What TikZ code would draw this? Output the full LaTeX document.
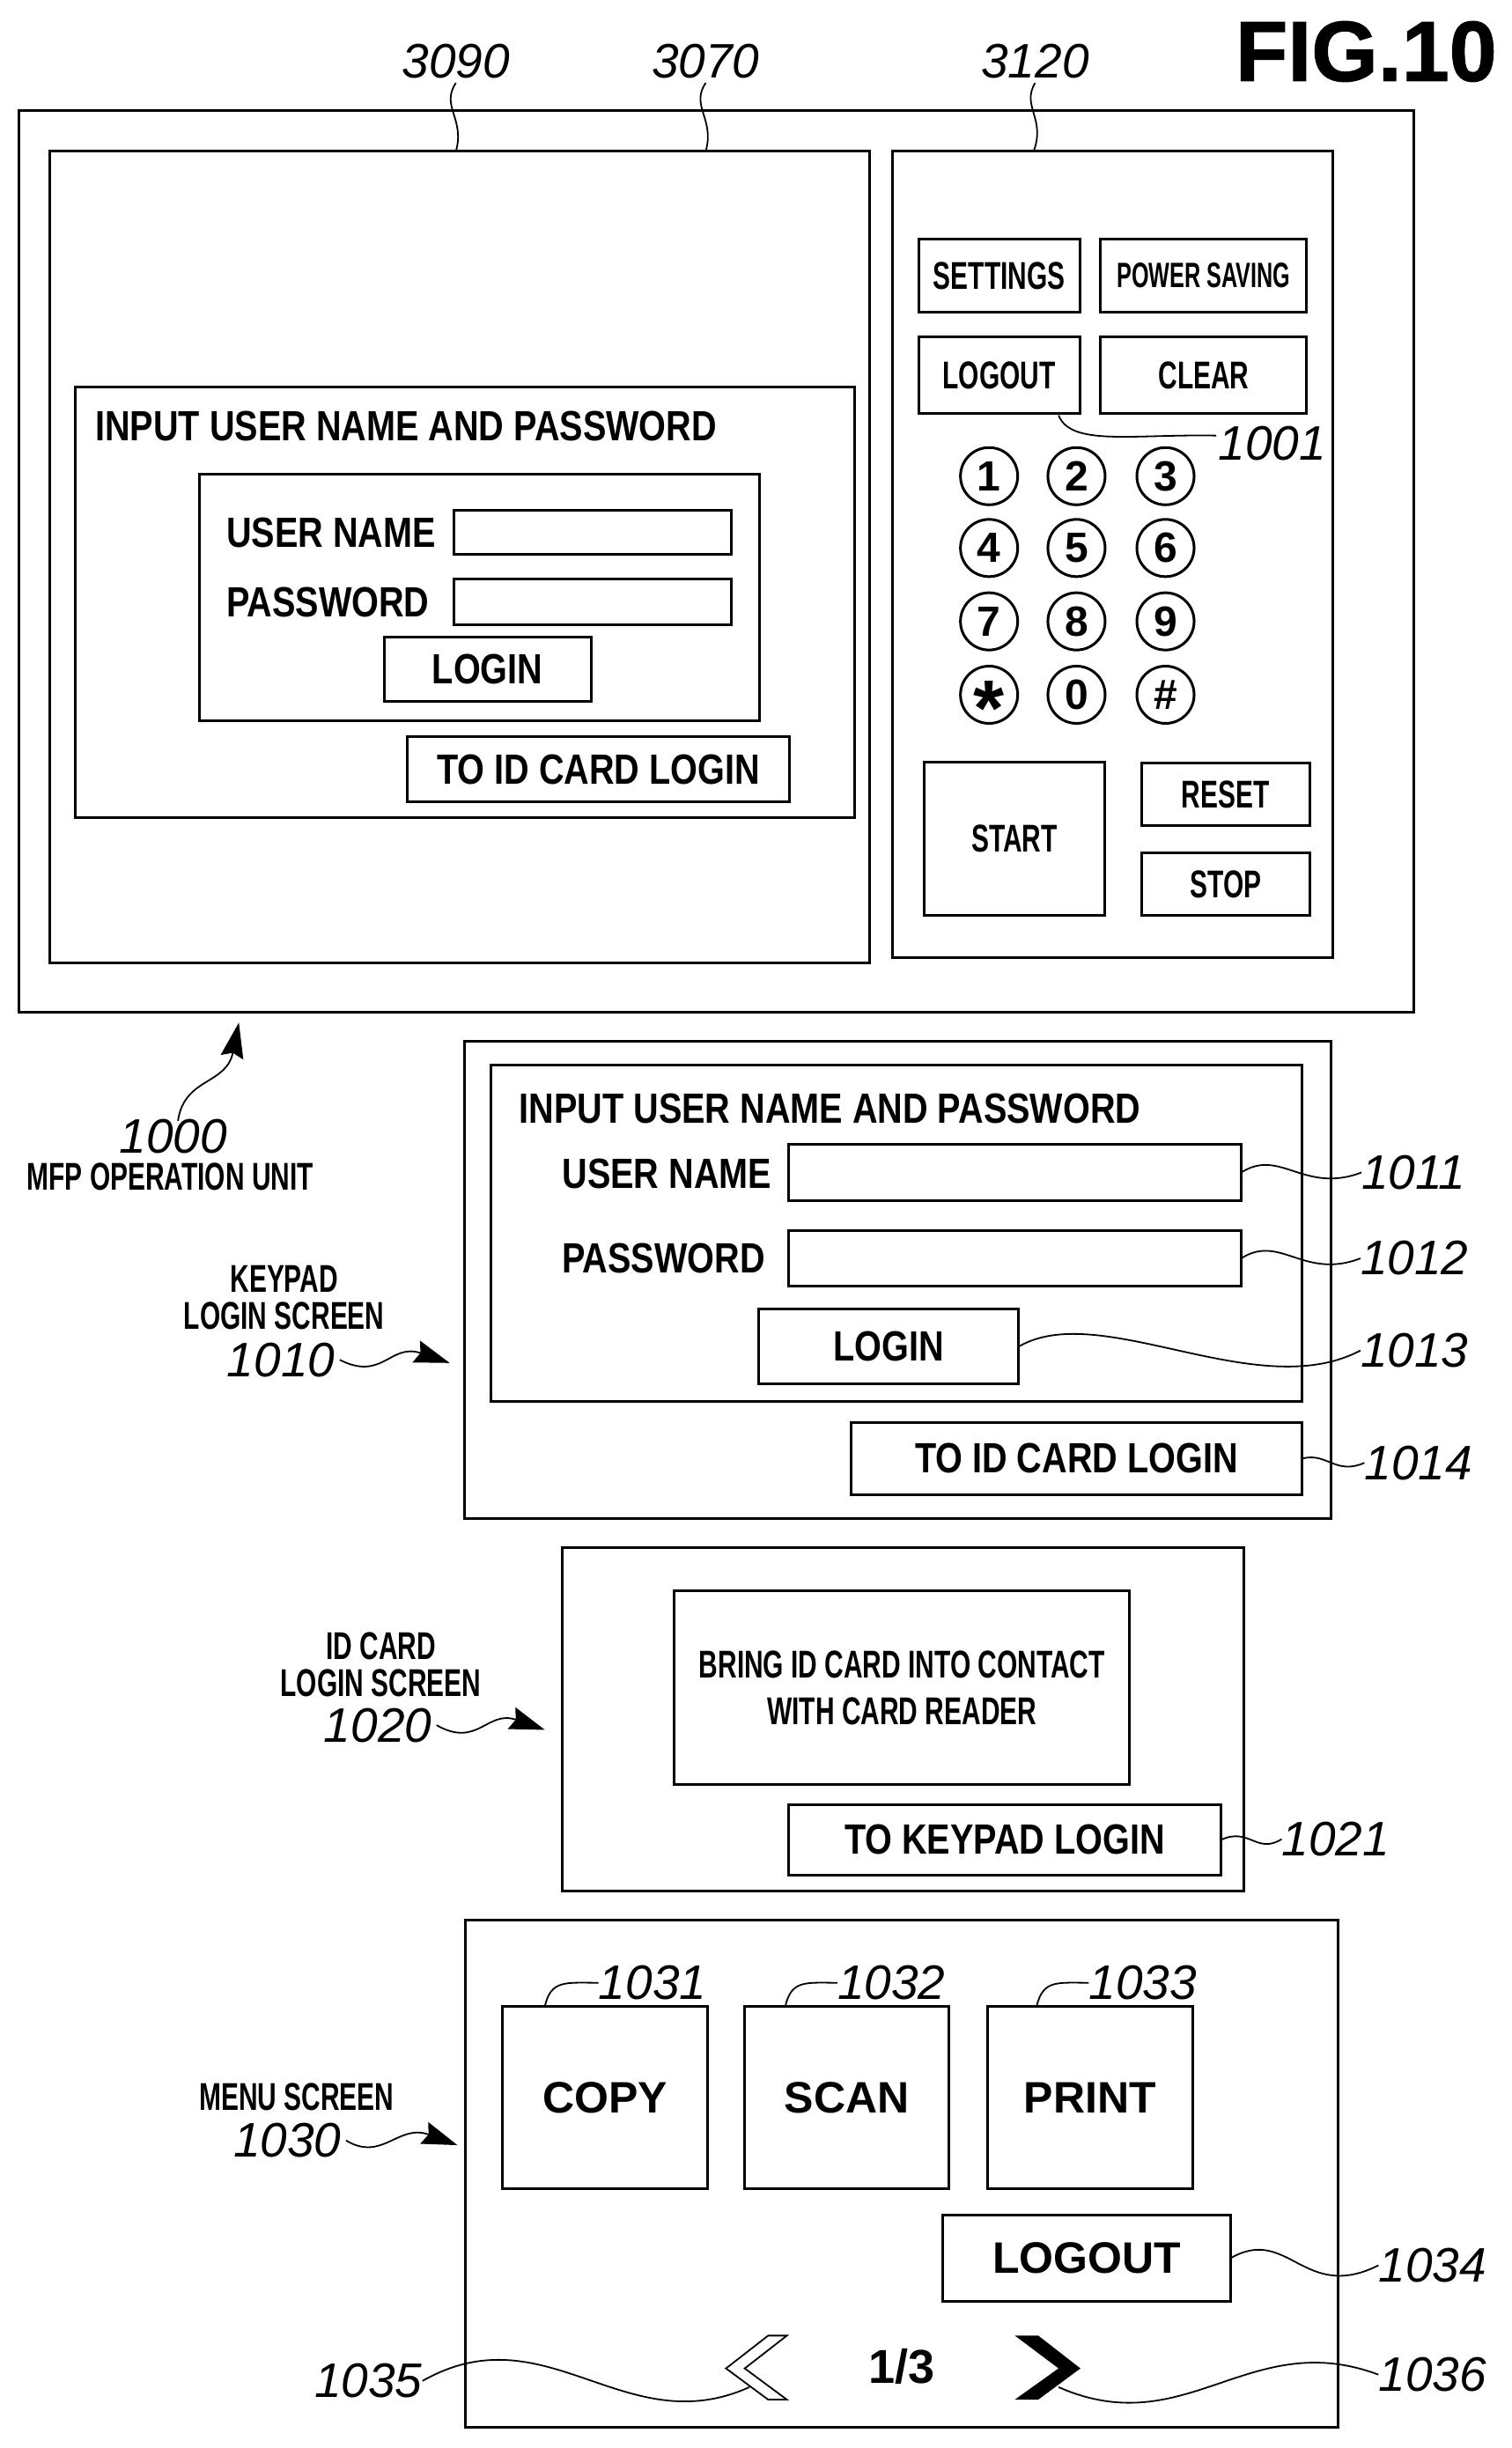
\documentclass[tikz,border=0pt]{standalone}
\usepackage{fontspec}
\usetikzlibrary{fit,arrows.meta}
\setmainfont{Liberation Sans}
\newfontfamily\fcond[FakeStretch=0.68]{Liberation Sans}
\newfontfamily\fnar[FakeStretch=0.63]{Liberation Sans}
\newfontfamily\fmid[FakeStretch=0.825]{Liberation Sans}
\newfontfamily\ftitle[FakeBold=1.2]{Liberation Sans}
\newcommand\fz[1]{\fontsize{#1}{#1}\selectfont}
\tikzset{
 x=1.7727pt,y=-1.7727pt,
 boxa/.style={draw=black,line width=3pt,inner sep=0pt,outer sep=0pt,fill=none},
 btn/.style={boxa,label={[inner sep=0pt,font=\fmid\bfseries\fz{48}]center:{#1}}},
 btnb/.style={boxa,label={[inner sep=0pt,font=\fcond\bfseries\fz{44}]center:{#1}}},
 btnn/.style={boxa,label={[inner sep=0pt,font=\fnar\bfseries\fz{40}]center:{#1}}},
 btnw/.style={boxa,label={[inner sep=0pt,font=\bfseries\fz{50}]center:{#1}}},
 numlab/.style={font=\itshape\fz{55},inner sep=0pt},
 txtlab/.style={font=\fmid\bfseries\fz{48},inner sep=0pt,anchor=west},
 captext/.style={font=\fcond\bfseries\fz{44},inner sep=0pt,align=center},
 keycirc/.style={circle,draw=black,line width=3pt,minimum size=65pt,inner sep=0pt,font=\bfseries\fz{48}},
 leadline/.style={line width=1.8pt},
 tipped/.style={line width=1.8pt,-{Stealth[length=40pt,width=26pt,inset=5pt]}},
}
\begin{document}
\begin{tikzpicture}
\useasboundingbox (0,0) rectangle (968,1568);
\fill[white] (0,0) rectangle (968,1568);
% title
\node[font=\ftitle\bfseries\fz{97},inner sep=0pt] (fig) at (875,33) {FIG.10};
% operation unit
\node[boxa,fit={(12,71)(905.5,648.5)}] (unit) {};
\node[boxa,fit={(32,97)(557,616.5)}] (screen) {};
\node[boxa,fit={(571.5,97)(853.5,613.5)}] (panel) {};
\node[boxa,fit={(48,248)(547.5,523.5)}] (dlgA) {};
\node[txtlab] (dlgAt) at (61,273) {INPUT USER NAME AND PASSWORD};
\node[boxa,fit={(128,304)(486.5,461.5)}] (innerA) {};
\node[txtlab] (unA) at (145,341) {USER NAME};
\node[txtlab] (pwA) at (145,386) {PASSWORD};
\node[boxa,fit={(291,327)(468.5,355)}] (fA1) {};
\node[boxa,fit={(291,371)(468.5,400)}] (fA2) {};
\node[btn=LOGIN,fit={(246,408)(378.5,449.5)}] (loginA) {};
\node[btn={TO ID CARD LOGIN},fit={(261,472)(505.5,513.5)}] (cardA) {};
% panel
\node[btnb=SETTINGS,fit={(588.5,153)(691.5,200)}] (settings) {};
\node[btnn={POWER SAVING},fit={(705,153)(837,200)}] (power) {};
\node[btnb=LOGOUT,fit={(588.5,216)(691.5,265)}] (logoutP) {};
\node[btnb=CLEAR,fit={(705,216)(837,265)}] (clear) {};
\node[keycirc] (k1) at (633.5,305) {1};
\node[keycirc] (k2) at (689.5,305) {2};
\node[keycirc] (k3) at (746.5,305) {3};
\node[keycirc] (k4) at (633.5,351) {4};
\node[keycirc] (k5) at (689.5,351) {5};
\node[keycirc] (k6) at (746.5,351) {6};
\node[keycirc] (k7) at (633.5,398) {7};
\node[keycirc] (k8) at (689.5,398) {8};
\node[keycirc] (k9) at (746.5,398) {9};
\node[keycirc] (kS) at (633.5,445) {\raisebox{-47pt}[0pt][0pt]{\fz{90}*}};
\node[keycirc] (k0) at (689.5,445) {0};
\node[keycirc] (kH) at (746.5,445) {\#};
\node[btnb=START,fit={(592,488)(707.5,586.5)}] (start) {};
\node[btnb=RESET,fit={(731,489)(839,528.5)}] (reset) {};
\node[btnb=STOP,fit={(731,546)(839,586.5)}] (stop) {};
% keypad login
\node[boxa,fit={(297.5,667)(852.5,972.5)}] (keypad) {};
\node[boxa,fit={(314.5,682)(834,897.5)}] (innerB) {};
\node[txtlab] (dlgBt) at (332.5,710) {INPUT USER NAME AND PASSWORD};
\node[txtlab] (unB) at (360,752) {USER NAME};
\node[txtlab] (pwB) at (360,806) {PASSWORD};
\node[boxa,fit={(505,733)(795,769)}] (fB1) {};
\node[boxa,fit={(505,788)(795,824)}] (fB2) {};
\node[btn=LOGIN,fit={(486,838.5)(652.5,886.5)}] (loginB) {};
\node[btn={TO ID CARD LOGIN},fit={(545,911)(834,957.5)}] (cardB) {};
% id card login
\node[boxa,fit={(360,991)(796.5,1211)}] (idcard) {};
\node[boxa,fit={(432,1019)(723.5,1143)},label={[inner sep=0pt,align=center,font=\fcond\bfseries\fz{44}]center:{BRING ID CARD INTO CONTACT\\[9pt]WITH CARD READER}}] (bring) {};
\node[btn={TO KEYPAD LOGIN},fit={(505,1156)(782,1201)}] (toKeypad) {};
% menu
\node[boxa,fit={(298,1230)(857,1555)}] (menu) {};
\node[btnw=COPY,fit={(322,1285)(453,1402)}] (copy) {};
\node[btnw=SCAN,fit={(477,1285)(608,1402)}] (scan) {};
\node[btnw=PRINT,fit={(632.5,1285)(764,1402)}] (print) {};
\node[btnw=LOGOUT,fit={(604,1419)(788,1474)}] (logoutM) {};
\node[font=\bfseries\fz{54},inner sep=0pt] (page) at (577.5,1516) {1/3};
\draw[line width=1.8pt,fill=white] (504,1496) -- (492,1496) -- (465,1517) -- (492,1537) -- (504,1537) -- (477,1517) -- cycle;
\fill[black] (650,1496) -- (665,1496) -- (692,1517) -- (665,1537) -- (650,1537) -- (678,1517) -- cycle;
\coordinate (chevL) at (480,1529);
\coordinate (chevR) at (678,1529);
% numerals
\node[numlab] (n3090) at (292,39) {3090};
\node[numlab] (n3070) at (452,39) {3070};
\node[numlab] (n3120) at (663,39) {3120};
\node[numlab] (n1001) at (815,284) {1001};
\node[numlab] (n1000) at (111,728) {1000};
\node[numlab] (n1010) at (180,871) {1010};
\node[numlab] (n1020) at (242,1105) {1020};
\node[numlab] (n1030) at (184,1371) {1030};
\node[numlab] (n1011) at (905.5,751) {1011};
\node[numlab] (n1012) at (906,806) {1012};
\node[numlab] (n1013) at (906,865) {1013};
\node[numlab] (n1014) at (908.5,937) {1014};
\node[numlab] (n1021) at (855.5,1178) {1021};
\node[numlab] (n1031) at (418,1270) {1031};
\node[numlab] (n1032) at (571,1270) {1032};
\node[numlab] (n1033) at (732,1270) {1033};
\node[numlab] (n1034) at (917.5,1451) {1034};
\node[numlab] (n1035) at (236,1525) {1035};
\node[numlab] (n1036) at (917.5,1521) {1036};
% captions
\node[captext] (cUnit) at (109,754) {MFP OPERATION UNIT};
\node[captext] (cKey) at (182,831) {KEYPAD\\[-2pt]LOGIN SCREEN};
\node[captext] (cId) at (244,1066) {ID CARD\\[-2pt]LOGIN SCREEN};
\node[captext] (cMenu) at (190,1343) {MENU SCREEN};
% leaders
\coordinate (t3090) at (292,97);
\coordinate (t3070) at (452,97);
\coordinate (t3120) at (662,97);
\draw[leadline] (n3090.south) ++(0,3) .. controls (282,68) and (298,76) .. (t3090);
\draw[leadline] (n3070.south) ++(0,3) .. controls (442,68) and (458,76) .. (t3070);
\draw[leadline] (n3120.south) ++(0,3) .. controls (654,68) and (670,76) .. (t3120);
\coordinate (t1001) at (678,266);
\coordinate (s1001) at (779,279);
\draw[leadline] (t1001) .. controls (686,286) and (725,278) .. (s1001);
\draw[leadline] (fB1.east) .. controls (820,735) and (835,765) .. (n1011.west);
\draw[leadline] (fB2.east) .. controls (820,790) and (835,820) .. (n1012.west);
\draw[leadline] (loginB.east) .. controls (705,832) and (805,900) .. (n1013.west);
\draw[leadline] (cardB.east) .. controls (850,930) and (855,945) .. (n1014.west);
\draw[leadline] (toKeypad.east) .. controls (800,1170) and (805,1188) .. (n1021.west);
\coordinate (t1031) at (349,1285);
\coordinate (t1032) at (503,1285);
\coordinate (t1033) at (664,1285);
\draw[leadline] (t1031) .. controls (353,1268) and (362,1270) .. (n1031.west);
\draw[leadline] (t1032) .. controls (507,1268) and (516,1270) .. (n1032.west);
\draw[leadline] (t1033) .. controls (668,1268) and (677,1270) .. (n1033.west);
\draw[leadline] (logoutM.east) .. controls (825,1425) and (835,1475) .. (n1034.west);
\draw[leadline] (n1035.east) .. controls (350,1480) and (400,1565) .. (chevL);
\draw[leadline] (chevR) .. controls (760,1565) and (800,1490) .. (n1036.west);
% arrows
\coordinate (a1000) at (153,655);
\coordinate (a1010) at (288,873);
\coordinate (a1020) at (349,1108);
\coordinate (a1030) at (293,1374);
\draw[tipped] (n1000.north) ++(3,1) .. controls (118,690) and (145,695) .. (a1000);
\draw[tipped] (n1010.east) ++(3,0) .. controls (245,885) and (250,860) .. (a1010);
\draw[tipped] (n1020.east) ++(3,0) .. controls (306,1120) and (312,1095) .. (a1020);
\draw[tipped] (n1030.east) ++(3,0) .. controls (245,1385) and (255,1360) .. (a1030);
\end{tikzpicture}
\end{document}
